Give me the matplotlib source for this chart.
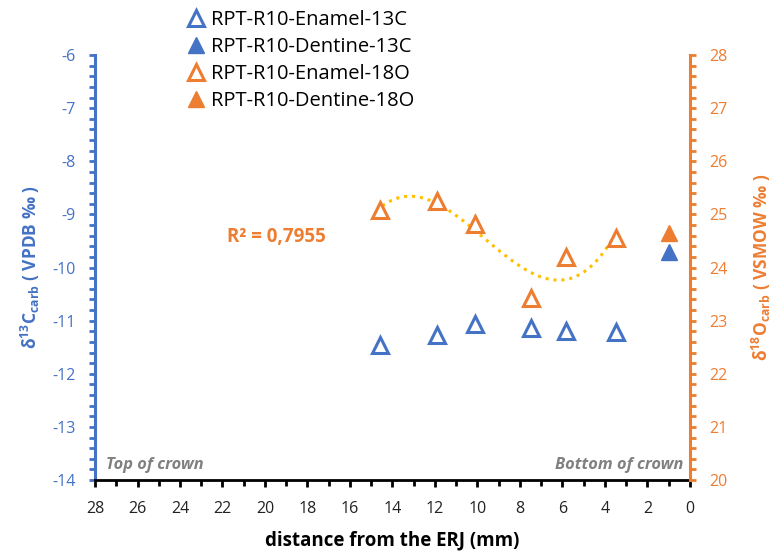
import numpy as np
import matplotlib
matplotlib.use("Agg")
import matplotlib.pyplot as plt
from matplotlib.ticker import MultipleLocator

plt.rcParams['font.family'] = ['Open Sans', 'DejaVu Sans']
plt.rcParams['mathtext.fontset'] = 'custom'
plt.rcParams['mathtext.rm'] = 'Open Sans'
plt.rcParams['mathtext.bf'] = 'Open Sans:bold'
plt.rcParams['axes.unicode_minus'] = False

BLUE = '#4472C4'
ORANGE = '#ED7D31'
YELLOW = '#FFC000'

# data
enamel_dist = [14.6, 11.9, 10.1, 7.5, 5.85, 3.5]
enamel_13c = [-11.46, -11.27, -11.06, -11.14, -11.19, -11.21]
enamel_18o = [25.09, 25.25, 24.82, 23.43, 24.2, 24.55]
dentine_dist = [1.0]
dentine_13c = [-9.71]
dentine_18o = [24.65]

fig = plt.figure(figsize=(7.73, 5.55), dpi=100)
ax = fig.add_axes([0.1229, 0.1351, 0.7697, 0.7658])
ax2 = ax.twinx()

# carbon on left axis
l1, = ax.plot(enamel_dist, enamel_13c, ls='none', marker='^', ms=11, mfc='white',
              mec=BLUE, mew=2.2, label='RPT-R10-Enamel-13C')
l2, = ax.plot(dentine_dist, dentine_13c, ls='none', marker='^', ms=11, mfc=BLUE,
              mec=BLUE, label='RPT-R10-Dentine-13C')

# oxygen on right axis + cubic trendline
l3, = ax2.plot(enamel_dist, enamel_18o, ls='none', marker='^', ms=11, mfc='white',
               mec=ORANGE, mew=2.2, label='RPT-R10-Enamel-18O')
l4, = ax2.plot(dentine_dist, dentine_18o, ls='none', marker='^', ms=11, mfc=ORANGE,
               mec=ORANGE, label='RPT-R10-Dentine-18O')
coef = np.polyfit(enamel_dist, enamel_18o, 3)
xs = np.linspace(min(enamel_dist), max(enamel_dist), 200)
ax2.plot(xs, np.polyval(coef, xs), ls=(0, (1, 1.6)), color=YELLOW, lw=2.2, zorder=1)
ax2.text(19.48, 24.57, 'R² = 0,7955', color=ORANGE, fontsize=13.5, fontweight='bold',
         ha='center', va='center')

ax.set_xlim(28, 0)
ax.set_ylim(-14, -6)
ax2.set_ylim(20, 28)
ax.xaxis.set_major_locator(MultipleLocator(2))
ax.xaxis.set_minor_locator(MultipleLocator(1))
ax.yaxis.set_major_locator(MultipleLocator(1))
ax.yaxis.set_minor_locator(MultipleLocator(0.2))
ax2.yaxis.set_major_locator(MultipleLocator(1))
ax2.yaxis.set_minor_locator(MultipleLocator(0.2))

ax.spines['top'].set_visible(False)
ax2.spines['top'].set_visible(False)
ax.spines['bottom'].set_color('black')
ax.spines['bottom'].set_linewidth(2)
ax2.spines['bottom'].set_visible(False)
ax.spines['left'].set_color(BLUE)
ax.spines['left'].set_linewidth(2.2)
ax.spines['right'].set_visible(False)
ax2.spines['left'].set_visible(False)
ax2.spines['right'].set_color(ORANGE)
ax2.spines['right'].set_linewidth(2.2)

ax.tick_params(axis='x', which='both', direction='out', colors='black', width=2,
               labelsize=11.5, labelcolor='#222222', pad=10)
ax.tick_params(axis='x', which='major', length=5)
ax.tick_params(axis='x', which='minor', length=4)
ax.tick_params(axis='y', which='both', direction='out', colors=BLUE, width=2, length=4,
               labelsize=11.5, pad=10)
ax2.tick_params(axis='y', which='both', direction='out', colors=ORANGE, width=2, length=4,
                labelsize=11.5, pad=10)

ax.set_xlabel('distance from the ERJ (mm)', fontsize=13.5, fontweight='bold', labelpad=10)
ax.set_ylabel(r'δ$^{\mathbf{13}}$C$_{\mathbf{carb}}$ ( VPDB ‰ )', color=BLUE,
              fontsize=12.5, fontweight='bold')
ax2.set_ylabel(r'δ$^{\mathbf{18}}$O$_{\mathbf{carb}}$ ( VSMOW ‰ )', color=ORANGE,
               fontsize=12.5, fontweight='bold')
ax.yaxis.set_label_coords(-0.089, 0.5)
ax2.yaxis.set_label_coords(1.10, 0.5)

ax.text(27.5, -13.72, 'Top of crown', color='#808080', fontsize=11.8, fontweight='bold',
        style='italic', ha='left', va='center')
ax.text(0.3, -13.72, 'Bottom of crown', color='#808080', fontsize=11.8, fontweight='bold',
        style='italic', ha='right', va='center')

fig.legend(handles=[l1, l2, l3, l4], loc='upper left', bbox_to_anchor=(0.230, 0.997),
           frameon=False, fontsize=14.5, handlelength=1, handletextpad=0.25,
           labelspacing=0.35, borderaxespad=0)

fig.savefig('out.png', dpi=100)
